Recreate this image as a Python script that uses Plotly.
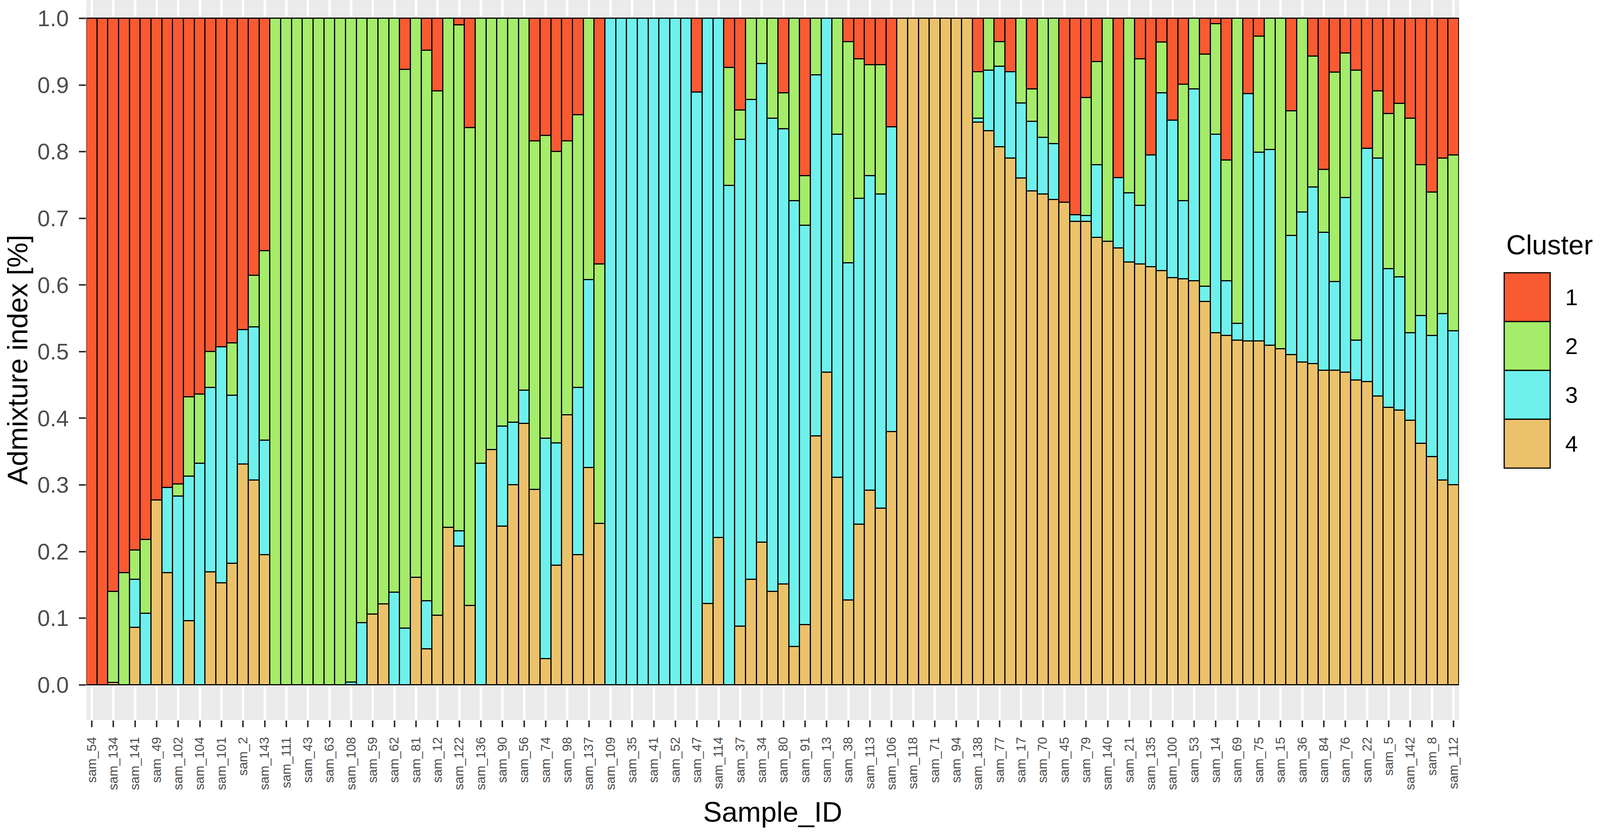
import plotly.graph_objects as go

# Sample order as plotted (left to right)
samples = [
    "sam_54", "sam_27", "sam_134", "sam_26", "sam_141", "sam_25", "sam_49", "sam_65", "sam_102", "sam_103",
    "sam_104", "sam_99", "sam_101", "sam_28", "sam_2", "sam_130", "sam_143", "sam_10", "sam_111", "sam_127",
    "sam_43", "sam_60", "sam_63", "sam_24", "sam_108", "sam_131", "sam_59", "sam_125", "sam_62", "sam_6",
    "sam_81", "sam_68", "sam_12", "sam_19", "sam_122", "sam_64", "sam_136", "sam_124", "sam_90", "sam_126",
    "sam_56", "sam_67", "sam_74", "sam_96", "sam_98", "sam_73", "sam_137", "sam_139", "sam_109", "sam_29",
    "sam_35", "sam_40", "sam_41", "sam_42", "sam_52", "sam_39", "sam_47", "sam_92", "sam_114", "sam_30",
    "sam_37", "sam_119", "sam_34", "sam_120", "sam_80", "sam_31", "sam_91", "sam_32", "sam_13", "sam_121",
    "sam_38", "sam_46", "sam_113", "sam_33", "sam_106", "sam_18", "sam_118", "sam_20", "sam_71", "sam_72",
    "sam_94", "sam_95", "sam_138", "sam_117", "sam_77", "sam_132", "sam_17", "sam_93", "sam_70", "sam_57",
    "sam_45", "sam_129", "sam_79", "sam_89", "sam_140", "sam_51", "sam_21", "sam_116", "sam_135", "sam_110",
    "sam_100", "sam_88", "sam_53", "sam_87", "sam_14", "sam_105", "sam_69", "sam_16", "sam_75", "sam_55",
    "sam_15", "sam_4", "sam_36", "sam_9", "sam_84", "sam_86", "sam_76", "sam_58", "sam_22", "sam_123",
    "sam_5", "sam_3", "sam_142", "sam_97", "sam_8", "sam_128", "sam_112",
]

# Admixture proportions per cluster, one value per sample
q1 = [
    1, 1, .860, .832, .798, .782, .723, .704, .699, .568,
    .564, .500, .493, .487, .467, .386, .349, 0, 0, 0,
    0, 0, 0, 0, 0, 0, 0, 0, 0, .077,
    0, .048, .109, 0, .010, .164, 0, 0, 0, 0,
    0, .184, .176, .200, .184, .145, 0, .369, 0, 0,
    0, 0, 0, 0, 0, 0, .111, 0, 0, .074,
    .138, 0, 0, 0, .112, 0, .236, 0, 0, 0,
    .035, .061, .070, .070, .163, 0, 0, 0, 0, 0,
    0, 0, .080, 0, .035, .080, 0, .106, 0, 0,
    .276, .295, .119, .065, 0, .239, 0, .061, .205, .036,
    .153, .099, 0, .054, .008, .213, 0, .113, .027, 0,
    0, .139, 0, .057, .227, .081, .052, .078, .195, .109,
    .143, .128, .150, .220, .261, .210, .205,
]
q2 = [
    0, 0, .137, .168, .044, .111, 0, 0, .018, .119,
    .104, .054, 0, .079, 0, .077, .284, 1, 1, 1,
    1, 1, 1, 1, .996, .907, .894, .879, .861, .838,
    .839, .826, .787, .764, .759, .717, .668, .647, .612, .606,
    .558, .523, .454, .437, .411, .409, .392, .389, 0, 0,
    0, 0, 0, 0, 0, 0, 0, 0, 0, .177,
    .044, .122, .068, .150, .054, .274, .075, .085, 0, .174,
    .332, .209, .166, .194, 0, 0, 0, 0, 0, 0,
    0, 0, .070, .078, .037, 0, .127, .049, .179, .188,
    0, 0, .177, .155, .335, 0, .262, .220, 0, .076,
    0, .175, .106, .348, .166, .181, .458, 0, .174, .197,
    .496, .187, .291, .196, .094, .314, .217, .405, 0, .101,
    .233, .260, .322, .226, .215, .233, .264,
]
q3 = [
    0, 0, 0, 0, .072, .107, 0, .128, .283, .217,
    .332, .277, .354, .252, .202, .230, .172, 0, 0, 0,
    0, 0, 0, 0, .004, .093, 0, 0, .139, .085,
    0, .072, 0, 0, .023, 0, .332, 0, .150, .094,
    .050, 0, .331, .184, 0, .251, .282, 0, 1, 1,
    1, 1, 1, 1, 1, 1, .889, .878, .779, .749,
    .730, .720, .718, .710, .683, .669, .599, .542, .531, .515,
    .506, .489, .472, .471, .457, 0, 0, 0, 0, 0,
    0, 0, .006, .091, .121, .130, .113, .104, .085, .084,
    0, .010, .009, .109, 0, .106, .104, .088, .168, .267,
    .236, .117, .288, .023, .298, .082, .025, .371, .283, .294,
    0, .179, .225, .265, .207, .133, .262, .060, .350, .357,
    .208, .200, .131, .192, .182, .250, .231,
]
q4 = [
    0, 0, .003, 0, .086, 0, .277, .168, 0, .096,
    0, .169, .153, .182, .331, .307, .195, 0, 0, 0,
    0, 0, 0, 0, 0, 0, .106, .121, 0, 0,
    .161, .054, .104, .236, .208, .119, 0, .353, .238, .300,
    .392, .293, .039, .179, .405, .195, .326, .242, 0, 0,
    0, 0, 0, 0, 0, 0, 0, .122, .221, 0,
    .088, .158, .214, .140, .151, .057, .090, .373, .469, .311,
    .127, .241, .292, .265, .380, 1, 1, 1, 1, 1,
    1, 1, .844, .831, .807, .790, .760, .741, .736, .728,
    .724, .695, .695, .671, .665, .655, .634, .631, .627, .621,
    .611, .609, .606, .575, .528, .524, .517, .516, .516, .509,
    .504, .495, .484, .482, .472, .472, .469, .457, .455, .433,
    .416, .412, .397, .362, .342, .307, .300,
]

clusters = ["1", "2", "3", "4"]
colors = {"1": "#FA5A32", "2": "#A4EC6A", "3": "#6EF1EC", "4": "#EBC26B"}
shares = {"1": q1, "2": q2, "3": q3, "4": q4}

y_ticks = [0.0, 0.1, 0.2, 0.3, 0.4, 0.5, 0.6, 0.7, 0.8, 0.9, 1.0]
y_labels = ["0.0", "0.1", "0.2", "0.3", "0.4", "0.5", "0.6", "0.7", "0.8", "0.9", "1.0"]

W, H = 4317, 2137
ML, MR, MT, MB = 233, 380, 0, 294
PH = H - MT - MB
PLOT_RIGHT = W - MR  # legend is placed relative to the panel's right edge
FONT = "Liberation Sans, Arial, Helvetica, sans-serif"


def px_y(py):
    return (H - MB - py) / PH


fig = go.Figure()
# cluster 4 sits at the bottom of the stack, cluster 1 on top
for c in reversed(clusters):
    fig.add_trace(go.Bar(
        x=samples, y=shares[c], name=c,
        marker=dict(color=colors[c], line=dict(color="black", width=3)),
        showlegend=False,
    ))

# hand-made legend, ggplot style (offsets in px from the panel's right edge)
shapes = []
annotations = [dict(
    x=1, xshift=4062 - PLOT_RIGHT, y=px_y(627), xref="paper", yref="paper", text="Cluster",
    showarrow=False, xanchor="left", yanchor="middle",
    font=dict(family=FONT, size=70, color="black"),
)]
for i, c in enumerate(clusters):
    top = 698 + i * 125
    shapes.append(dict(
        type="rect", xref="paper", yref="paper", xsizemode="pixel", xanchor=1,
        x0=4059 - PLOT_RIGHT, x1=4183 - PLOT_RIGHT, y0=px_y(top + 125), y1=px_y(top),
        fillcolor=colors[c], line=dict(color="black", width=3),
    ))
    annotations.append(dict(
        x=1, xshift=4222 - PLOT_RIGHT, y=px_y(top + 62), xref="paper", yref="paper", text=c,
        showarrow=False, xanchor="left", yanchor="middle",
        font=dict(family=FONT, size=58, color="black"),
    ))

# axis titles
annotations.append(dict(
    x=0, y=0.5, xref="paper", yref="paper", xshift=-(ML - 47), text="Admixture index [%]",
    textangle=-90, showarrow=False, xanchor="center", yanchor="middle",
    font=dict(family=FONT, size=72, color="black"),
))
annotations.append(dict(
    x=0.5, y=0, xref="paper", yref="paper", yshift=-235, text="Sample_ID",
    showarrow=False, xanchor="center", yanchor="middle",
    font=dict(family=FONT, size=72, color="black"),
))

fig.update_layout(
    autosize=True, height=H,
    margin=dict(l=ML, r=MR, t=MT, b=MB, autoexpand=False),
    barmode="stack", bargap=0,
    plot_bgcolor="#EBEBEB", paper_bgcolor="white",
    font=dict(family=FONT, color="#4D4D4D"),
    shapes=shapes, annotations=annotations,
    xaxis=dict(
        type="category", categoryorder="array", categoryarray=samples,
        range=[-0.5, len(samples) - 0.5],
        showgrid=True, gridcolor="white", gridwidth=6,
        ticks="outside", ticklen=17, tickwidth=4, tickcolor="#333333",
        tickangle=-90, tickfont=dict(size=33, color="#4D4D4D"),
        ticklabelstandoff=12, showline=False, zeroline=False,
    ),
    yaxis=dict(
        range=[-0.053, 1.0276],
        tickvals=y_ticks, ticktext=y_labels,
        showgrid=True, gridcolor="white", gridwidth=4,
        ticks="outside", ticklen=18, tickwidth=4, tickcolor="#333333",
        tickfont=dict(size=58, color="#4D4D4D"),
        ticklabelstandoff=14, showline=False, zeroline=False,
    ),
)

# fill the window width; keep the side margins in proportion if the window
# turns out narrower than the 4317 px the layout was measured on
post = """
document.body.style.margin = '0';
document.body.style.overflow = 'hidden';
var gd = document.getElementById('{plot_id}');
Plotly.Plots.resize(gd).then(function () {
    var s = gd.offsetWidth / %d;
    if (Math.abs(s - 1) < 0.002) { return; }
    var upd = {'margin.l': %d * s, 'margin.r': %d * s};
    (gd.layout.annotations || []).forEach(function (a, i) {
        upd['annotations[' + i + '].xshift'] = (a.xshift || 0) * s;
    });
    (gd.layout.shapes || []).forEach(function (sh, i) {
        upd['shapes[' + i + '].x0'] = sh.x0 * s;
        upd['shapes[' + i + '].x1'] = sh.x1 * s;
    });
    return Plotly.relayout(gd, upd);
});
""" % (W, ML, MR)

fig.write_html(
    "out.html",
    default_width="100%", default_height=f"{H}px",
    config={"responsive": True, "displayModeBar": False},
    post_script=post,
)
